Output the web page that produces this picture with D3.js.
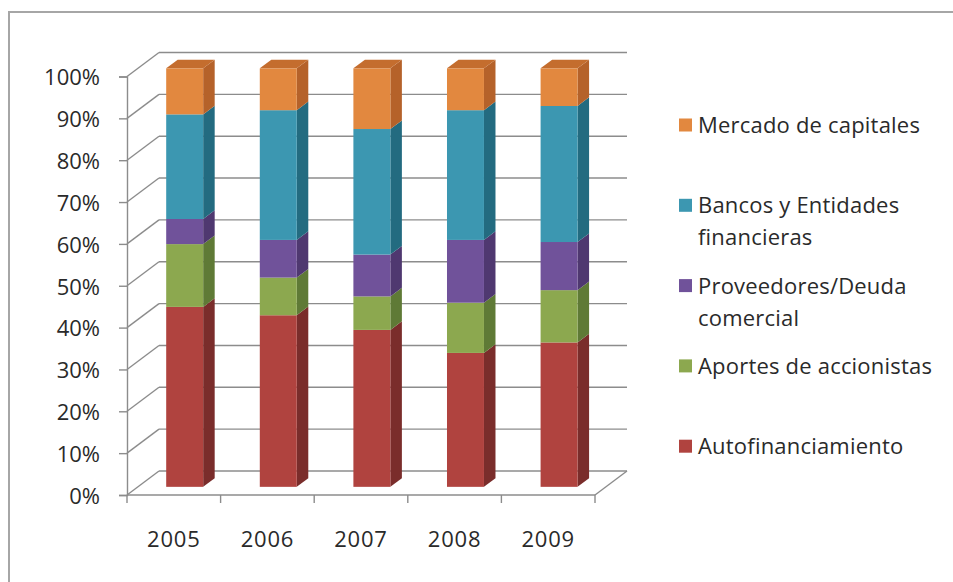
<!DOCTYPE html>
<html>
<head>
<meta charset="utf-8">
<script src="https://cdn.jsdelivr.net/npm/d3@7/dist/d3.min.js"></script>
<style>
  html, body { margin: 0; padding: 0; background: #fff; }
  svg { display: block; font-family: "Open Sans", Lato, sans-serif; }
</style>
</head>
<body>
<svg id="chart" width="953" height="582"></svg>
<script>
// Financing sources, share of total (%) per year
const years = ["2005", "2006", "2007", "2008", "2009"];
const seriesNames = [
  "Autofinanciamiento",
  "Aportes de accionistas",
  "Proveedores/Deuda comercial",
  "Bancos y Entidades financieras",
  "Mercado de capitales"
];
const autofinanciamiento = [43, 41, 37.5, 32, 34.5];
const aportes            = [15, 9, 8, 12, 12.5];
const proveedores        = [6, 9, 10, 15, 11.5];
const bancos             = [25, 31, 30, 31, 32.5];
const mercado            = [11, 10, 14.5, 10, 9];
const yTicks = [0, 10, 20, 30, 40, 50, 60, 70, 80, 90, 100];

// Legend lines (wrapped as in the legend box)
const legendLines = {
  "Mercado de capitales": ["Mercado de capitales"],
  "Bancos y Entidades financieras": ["Bancos y Entidades", "financieras"],
  "Proveedores/Deuda comercial": ["Proveedores/Deuda", "comercial"],
  "Aportes de accionistas": ["Aportes de accionistas"],
  "Autofinanciamiento": ["Autofinanciamiento"]
};

// Face colours: front, side, top
const palette = {
  "Autofinanciamiento":            { front: "#b0433f", side: "#7a2d2b", top: "#963835" },
  "Aportes de accionistas":        { front: "#8ca84f", side: "#5f7a36", top: "#768f42" },
  "Proveedores/Deuda comercial":   { front: "#70529a", side: "#4f3870", top: "#5d4482" },
  "Bancos y Entidades financieras":{ front: "#3c97b1", side: "#236b80", top: "#2f809a" },
  "Mercado de capitales":          { front: "#e2883f", side: "#b5622a", top: "#c46d2e" }
};

const rows = years.map((y, i) => ({
  year: y,
  "Autofinanciamiento": autofinanciamiento[i],
  "Aportes de accionistas": aportes[i],
  "Proveedores/Deuda comercial": proveedores[i],
  "Bancos y Entidades financieras": bancos[i],
  "Mercado de capitales": mercado[i]
}));

const svg = d3.select("#chart");
const textColor = "#2a2a2a";
const fontFam = "'Open Sans', Lato, sans-serif";

// Outer chart-area frame
svg.append("rect")
  .attr("x", 9).attr("y", 12).attr("width", 1000).attr("height", 700)
  .attr("fill", "none").attr("stroke", "#a6a6a6").attr("stroke-width", 2);

// 3D projection: front plane + depth offset
const DX = 32, DY = -24;
const x = d3.scaleBand().domain(years).range([127, 595]).paddingInner(0).paddingOuter(0);
const y = d3.scaleLinear().domain([0, 100]).range([495, 76.5]);
const f1 = 0.34, f2 = 0.70;           // bar depth: front and back fractions
const barFrac = 0.395;                // bar width as share of band
const gridColor = "#8c8c8c";

const g = svg.append("g");

// Back wall gridlines and left-wall diagonals
yTicks.forEach(t => {
  const yy = y(t);
  g.append("line")
    .attr("x1", 127).attr("y1", yy).attr("x2", 127 + DX).attr("y2", yy + DY)
    .attr("stroke", gridColor).attr("stroke-width", 1.4);
  g.append("line")
    .attr("x1", 127 + DX).attr("y1", yy + DY).attr("x2", 595 + DX).attr("y2", yy + DY)
    .attr("stroke", gridColor).attr("stroke-width", 1.4);
});

// Floor edges
g.append("line")
  .attr("x1", 127).attr("y1", y(0)).attr("x2", 595).attr("y2", y(0))
  .attr("stroke", gridColor).attr("stroke-width", 1.4);
g.append("line")
  .attr("x1", 595).attr("y1", y(0)).attr("x2", 595 + DX).attr("y2", y(0) + DY)
  .attr("stroke", gridColor).attr("stroke-width", 1.4);

// Value axis (front-left)
const yAxis = d3.axisLeft(y).tickValues(yTicks).tickSize(8).tickFormat(d => d + "%");
const yAxisG = svg.append("g").attr("transform", "translate(127,0)").call(yAxis);
yAxisG.select(".domain").attr("stroke", gridColor).attr("stroke-width", 1.4);
yAxisG.selectAll(".tick line").attr("stroke", gridColor).attr("stroke-width", 1.4);
yAxisG.selectAll(".tick text")
  .attr("x", -27).attr("dy", "0.38em")
  .attr("font-size", 22).attr("fill", textColor)
  .attr("font-family", fontFam);

// Category axis (front floor edge), ticks between categories
const xAxis = d3.axisBottom(x).tickSize(0).tickPadding(0);
const xAxisG = svg.append("g").attr("transform", `translate(0,${y(0)})`).call(xAxis);
xAxisG.select(".domain").remove();
xAxisG.selectAll(".tick text")
  .attr("y", 52).attr("dy", 0)
  .attr("font-size", 22).attr("letter-spacing", 0.8).attr("fill", textColor)
  .attr("font-family", fontFam);
const bounds = years.map(d => x(d)).concat([x(years[years.length - 1]) + x.bandwidth()]);
xAxisG.selectAll("line.sep").data(bounds).enter().append("line")
  .attr("class", "sep")
  .attr("x1", d => d).attr("x2", d => d).attr("y1", 0).attr("y2", 8)
  .attr("stroke", gridColor).attr("stroke-width", 1.4);

// Stacked bars
const stack = d3.stack().keys(seriesNames);
const layers = stack(rows);
const bw = x.bandwidth() * barFrac;
const ddx = (f2 - f1) * DX, ddy = (f2 - f1) * DY;

const bars = svg.append("g");
years.forEach((yr, i) => {
  const xl = x(yr) + (x.bandwidth() - bw) / 2 + f1 * DX;
  const xr = xl + bw;
  layers.forEach((layer, li) => {
    const seg = layer[i];
    const name = layer.key;
    const c = palette[name];
    const yTop = y(seg[1]) + f1 * DY;
    const yBot = y(seg[0]) + f1 * DY;
    // side face
    bars.append("polygon")
      .attr("points", [[xr, yTop], [xr + ddx, yTop + ddy], [xr + ddx, yBot + ddy], [xr, yBot]].join(" "))
      .attr("fill", c.side);
    // front face
    bars.append("rect")
      .attr("x", xl).attr("y", yTop).attr("width", bw).attr("height", yBot - yTop)
      .attr("fill", c.front);
    // top face on the highest segment
    if (li === layers.length - 1) {
      bars.append("polygon")
        .attr("points", [[xl, yTop], [xl + ddx, yTop + ddy], [xr + ddx, yTop + ddy], [xr, yTop]].join(" "))
        .attr("fill", c.top);
    }
  });
});

// Legend (top series first)
const legendOrder = seriesNames.slice().reverse();
const legend = svg.append("g");
legendOrder.forEach((name, i) => {
  const cy = 125 + i * 80.3;
  legend.append("rect")
    .attr("x", 679).attr("y", cy - 6.5).attr("width", 13).attr("height", 13)
    .attr("fill", palette[name].front);
  legendLines[name].forEach((line, j) => {
    legend.append("text")
      .attr("x", 698).attr("y", cy + j * 32).attr("dy", "0.36em")
      .attr("font-size", 22).attr("letter-spacing", 0.2).attr("fill", textColor)
      .attr("font-family", fontFam)
      .text(line);
  });
});
</script>
</body>
</html>
